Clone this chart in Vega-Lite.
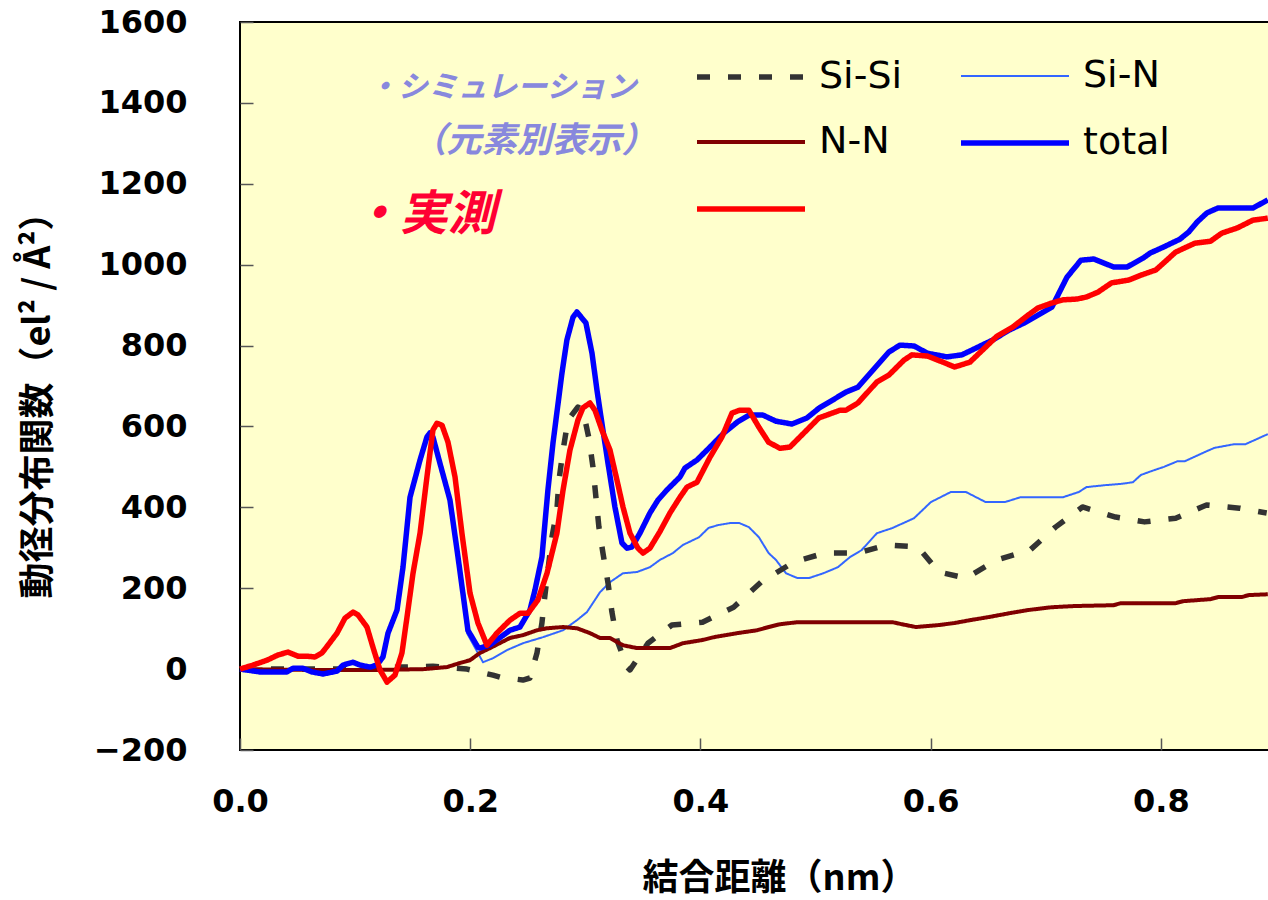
{
  "$schema": "https://vega.github.io/schema/vega-lite/v6.json",
  "autosize": "none",
  "width": 1036,
  "height": 728,
  "padding": {"left": 240, "top": 22, "right": 0, "bottom": 150},
  "background": "white",
  "config": {
    "view": {"fill": "#FFFFCC", "stroke": "#000000", "strokeWidth": 2},
    "axis": {"grid": false, "domain": false, "tickColor": "#555555", "tickWidth": 1.5, "labelColor": "#000000", "titleColor": "#000000", "labelFlush": false}
  },
  "datasets": {
    "curves": [
      {"s":"Si-N","x":0,"y":0},{"s":"Si-N","x":0.0174,"y":-7},{"s":"Si-N","x":0.0408,"y":-7},{"s":"Si-N","x":0.046,"y":2},{"s":"Si-N","x":0.0547,"y":2},{"s":"Si-N","x":0.0625,"y":-7},{"s":"Si-N","x":0.0721,"y":-12},{"s":"Si-N","x":0.0843,"y":-5},{"s":"Si-N","x":0.0895,"y":10},{"s":"Si-N","x":0.0982,"y":17},{"s":"Si-N","x":0.1042,"y":10},{"s":"Si-N","x":0.1129,"y":5},{"s":"Si-N","x":0.119,"y":10},{"s":"Si-N","x":0.1242,"y":30},{"s":"Si-N","x":0.1286,"y":89},{"s":"Si-N","x":0.1364,"y":146},{"s":"Si-N","x":0.1416,"y":252},{"s":"Si-N","x":0.1477,"y":425},{"s":"Si-N","x":0.1564,"y":517},{"s":"Si-N","x":0.1624,"y":574},{"s":"Si-N","x":0.165,"y":584},{"s":"Si-N","x":0.1676,"y":574},{"s":"Si-N","x":0.1737,"y":509},{"s":"Si-N","x":0.1824,"y":418},{"s":"Si-N","x":0.1894,"y":277},{"s":"Si-N","x":0.1972,"y":89},{"s":"Si-N","x":0.2111,"y":17},{"s":"Si-N","x":0.2198,"y":27},{"s":"Si-N","x":0.2319,"y":47},{"s":"Si-N","x":0.2458,"y":64},{"s":"Si-N","x":0.2632,"y":79},{"s":"Si-N","x":0.2806,"y":96},{"s":"Si-N","x":0.2927,"y":121},{"s":"Si-N","x":0.3014,"y":141},{"s":"Si-N","x":0.3127,"y":190},{"s":"Si-N","x":0.3214,"y":215},{"s":"Si-N","x":0.3327,"y":237},{"s":"Si-N","x":0.3448,"y":240},{"s":"Si-N","x":0.3561,"y":252},{"s":"Si-N","x":0.3648,"y":270},{"s":"Si-N","x":0.3761,"y":287},{"s":"Si-N","x":0.3848,"y":307},{"s":"Si-N","x":0.3987,"y":326},{"s":"Si-N","x":0.407,"y":349},{"s":"Si-N","x":0.4152,"y":356},{"s":"Si-N","x":0.4256,"y":361},{"s":"Si-N","x":0.4339,"y":361},{"s":"Si-N","x":0.4421,"y":351},{"s":"Si-N","x":0.4508,"y":326},{"s":"Si-N","x":0.4592,"y":287},{"s":"Si-N","x":0.4656,"y":270},{"s":"Si-N","x":0.4743,"y":237},{"s":"Si-N","x":0.4843,"y":225},{"s":"Si-N","x":0.4942,"y":225},{"s":"Si-N","x":0.5068,"y":237},{"s":"Si-N","x":0.5194,"y":252},{"s":"Si-N","x":0.5299,"y":277},{"s":"Si-N","x":0.5399,"y":294},{"s":"Si-N","x":0.5533,"y":336},{"s":"Si-N","x":0.5669,"y":349},{"s":"Si-N","x":0.5855,"y":373},{"s":"Si-N","x":0.6002,"y":413},{"s":"Si-N","x":0.6176,"y":438},{"s":"Si-N","x":0.6306,"y":438},{"s":"Si-N","x":0.6477,"y":413},{"s":"Si-N","x":0.6645,"y":413},{"s":"Si-N","x":0.678,"y":425},{"s":"Si-N","x":0.7149,"y":425},{"s":"Si-N","x":0.7288,"y":438},{"s":"Si-N","x":0.7353,"y":450},{"s":"Si-N","x":0.7522,"y":455},{"s":"Si-N","x":0.7653,"y":458},{"s":"Si-N","x":0.7757,"y":462},{"s":"Si-N","x":0.7826,"y":480},{"s":"Si-N","x":0.7922,"y":490},{"s":"Si-N","x":0.8026,"y":500},{"s":"Si-N","x":0.8144,"y":514},{"s":"Si-N","x":0.8208,"y":514},{"s":"Si-N","x":0.84,"y":539},{"s":"Si-N","x":0.8465,"y":547},{"s":"Si-N","x":0.8634,"y":556},{"s":"Si-N","x":0.8734,"y":556},{"s":"Si-N","x":0.8929,"y":581},
      {"s":"Si-Si","x":0,"y":0},{"s":"Si-Si","x":0.1,"y":0},{"s":"Si-Si","x":0.14,"y":5},{"s":"Si-Si","x":0.1676,"y":7},{"s":"Si-Si","x":0.1972,"y":0},{"s":"Si-Si","x":0.2198,"y":-15},{"s":"Si-Si","x":0.2258,"y":-20},{"s":"Si-Si","x":0.2458,"y":-27},{"s":"Si-Si","x":0.2519,"y":-22},{"s":"Si-Si","x":0.258,"y":40},{"s":"Si-Si","x":0.2623,"y":114},{"s":"Si-Si","x":0.2649,"y":183},{"s":"Si-Si","x":0.271,"y":326},{"s":"Si-Si","x":0.2753,"y":393},{"s":"Si-Si","x":0.2771,"y":467},{"s":"Si-Si","x":0.2806,"y":540},{"s":"Si-Si","x":0.2849,"y":616},{"s":"Si-Si","x":0.2936,"y":648},{"s":"Si-Si","x":0.2979,"y":640},{"s":"Si-Si","x":0.3031,"y":571},{"s":"Si-Si","x":0.3066,"y":500},{"s":"Si-Si","x":0.3092,"y":425},{"s":"Si-Si","x":0.3118,"y":351},{"s":"Si-Si","x":0.3153,"y":287},{"s":"Si-Si","x":0.3197,"y":213},{"s":"Si-Si","x":0.3231,"y":141},{"s":"Si-Si","x":0.3275,"y":72},{"s":"Si-Si","x":0.3362,"y":5},{"s":"Si-Si","x":0.3388,"y":-2},{"s":"Si-Si","x":0.3544,"y":64},{"s":"Si-Si","x":0.3752,"y":109},{"s":"Si-Si","x":0.4018,"y":116},{"s":"Si-Si","x":0.4288,"y":153},{"s":"Si-Si","x":0.4526,"y":215},{"s":"Si-Si","x":0.4812,"y":265},{"s":"Si-Si","x":0.5081,"y":287},{"s":"Si-Si","x":0.5368,"y":287},{"s":"Si-Si","x":0.562,"y":307},{"s":"Si-Si","x":0.5889,"y":302},{"s":"Si-Si","x":0.6072,"y":240},{"s":"Si-Si","x":0.6306,"y":225},{"s":"Si-Si","x":0.6575,"y":270},{"s":"Si-Si","x":0.6862,"y":294},{"s":"Si-Si","x":0.7084,"y":351},{"s":"Si-Si","x":0.7319,"y":401},{"s":"Si-Si","x":0.7606,"y":376},{"s":"Si-Si","x":0.7858,"y":364},{"s":"Si-Si","x":0.8128,"y":373},{"s":"Si-Si","x":0.8397,"y":406},{"s":"Si-Si","x":0.8683,"y":398},{"s":"Si-Si","x":0.8919,"y":386},
      {"s":"N-N","x":0,"y":0},{"s":"N-N","x":0.06,"y":-2},{"s":"N-N","x":0.12,"y":-2},{"s":"N-N","x":0.16,"y":0},{"s":"N-N","x":0.1676,"y":2},{"s":"N-N","x":0.1798,"y":5},{"s":"N-N","x":0.191,"y":15},{"s":"N-N","x":0.1998,"y":22},{"s":"N-N","x":0.2085,"y":40},{"s":"N-N","x":0.2172,"y":52},{"s":"N-N","x":0.2345,"y":77},{"s":"N-N","x":0.2458,"y":84},{"s":"N-N","x":0.258,"y":96},{"s":"N-N","x":0.2667,"y":101},{"s":"N-N","x":0.2806,"y":104},{"s":"N-N","x":0.2927,"y":101},{"s":"N-N","x":0.304,"y":89},{"s":"N-N","x":0.3127,"y":77},{"s":"N-N","x":0.3214,"y":77},{"s":"N-N","x":0.3327,"y":59},{"s":"N-N","x":0.3448,"y":52},{"s":"N-N","x":0.3735,"y":52},{"s":"N-N","x":0.3848,"y":64},{"s":"N-N","x":0.4018,"y":72},{"s":"N-N","x":0.4117,"y":79},{"s":"N-N","x":0.4321,"y":89},{"s":"N-N","x":0.4491,"y":96},{"s":"N-N","x":0.4592,"y":104},{"s":"N-N","x":0.4691,"y":111},{"s":"N-N","x":0.4843,"y":116},{"s":"N-N","x":0.5669,"y":116},{"s":"N-N","x":0.575,"y":111},{"s":"N-N","x":0.5872,"y":104},{"s":"N-N","x":0.6072,"y":109},{"s":"N-N","x":0.6208,"y":114},{"s":"N-N","x":0.6341,"y":121},{"s":"N-N","x":0.6511,"y":129},{"s":"N-N","x":0.668,"y":138},{"s":"N-N","x":0.6845,"y":146},{"s":"N-N","x":0.705,"y":153},{"s":"N-N","x":0.7253,"y":156},{"s":"N-N","x":0.7588,"y":158},{"s":"N-N","x":0.7653,"y":163},{"s":"N-N","x":0.8128,"y":163},{"s":"N-N","x":0.8195,"y":168},{"s":"N-N","x":0.8431,"y":173},{"s":"N-N","x":0.8495,"y":178},{"s":"N-N","x":0.87,"y":178},{"s":"N-N","x":0.8764,"y":183},{"s":"N-N","x":0.8929,"y":185},
      {"s":"total","x":0,"y":0},{"s":"total","x":0.0174,"y":-7},{"s":"total","x":0.0408,"y":-7},{"s":"total","x":0.046,"y":2},{"s":"total","x":0.0547,"y":2},{"s":"total","x":0.0625,"y":-7},{"s":"total","x":0.0721,"y":-12},{"s":"total","x":0.0843,"y":-5},{"s":"total","x":0.0895,"y":10},{"s":"total","x":0.0982,"y":17},{"s":"total","x":0.1042,"y":10},{"s":"total","x":0.1129,"y":5},{"s":"total","x":0.119,"y":10},{"s":"total","x":0.1242,"y":30},{"s":"total","x":0.1286,"y":89},{"s":"total","x":0.1364,"y":146},{"s":"total","x":0.1416,"y":252},{"s":"total","x":0.1477,"y":425},{"s":"total","x":0.1564,"y":517},{"s":"total","x":0.1624,"y":574},{"s":"total","x":0.165,"y":584},{"s":"total","x":0.1676,"y":574},{"s":"total","x":0.1737,"y":509},{"s":"total","x":0.1824,"y":418},{"s":"total","x":0.1894,"y":277},{"s":"total","x":0.198,"y":96},{"s":"total","x":0.2067,"y":54},{"s":"total","x":0.2085,"y":52},{"s":"total","x":0.2172,"y":60},{"s":"total","x":0.2345,"y":96},{"s":"total","x":0.2432,"y":104},{"s":"total","x":0.2519,"y":146},{"s":"total","x":0.2562,"y":195},{"s":"total","x":0.2623,"y":277},{"s":"total","x":0.2675,"y":443},{"s":"total","x":0.2719,"y":559},{"s":"total","x":0.2797,"y":732},{"s":"total","x":0.284,"y":814},{"s":"total","x":0.2893,"y":870},{"s":"total","x":0.2927,"y":883},{"s":"total","x":0.3005,"y":856},{"s":"total","x":0.3058,"y":781},{"s":"total","x":0.3101,"y":690},{"s":"total","x":0.3144,"y":608},{"s":"total","x":0.3197,"y":509},{"s":"total","x":0.3257,"y":401},{"s":"total","x":0.3318,"y":312},{"s":"total","x":0.3362,"y":299},{"s":"total","x":0.3405,"y":302},{"s":"total","x":0.3474,"y":336},{"s":"total","x":0.3561,"y":386},{"s":"total","x":0.3631,"y":418},{"s":"total","x":0.3709,"y":443},{"s":"total","x":0.3822,"y":475},{"s":"total","x":0.3865,"y":497},{"s":"total","x":0.397,"y":517},{"s":"total","x":0.4083,"y":549},{"s":"total","x":0.4204,"y":584},{"s":"total","x":0.4321,"y":611},{"s":"total","x":0.4421,"y":628},{"s":"total","x":0.4543,"y":628},{"s":"total","x":0.4656,"y":613},{"s":"total","x":0.4795,"y":606},{"s":"total","x":0.4925,"y":621},{"s":"total","x":0.5029,"y":645},{"s":"total","x":0.5147,"y":665},{"s":"total","x":0.5264,"y":685},{"s":"total","x":0.5368,"y":697},{"s":"total","x":0.5498,"y":739},{"s":"total","x":0.5637,"y":784},{"s":"total","x":0.5733,"y":801},{"s":"total","x":0.5855,"y":799},{"s":"total","x":0.5972,"y":781},{"s":"total","x":0.6141,"y":772},{"s":"total","x":0.6271,"y":777},{"s":"total","x":0.641,"y":796},{"s":"total","x":0.6541,"y":814},{"s":"total","x":0.668,"y":838},{"s":"total","x":0.6814,"y":856},{"s":"total","x":0.6932,"y":875},{"s":"total","x":0.7053,"y":895},{"s":"total","x":0.7184,"y":969},{"s":"total","x":0.7305,"y":1011},{"s":"total","x":0.7418,"y":1014},{"s":"total","x":0.7592,"y":994},{"s":"total","x":0.7705,"y":994},{"s":"total","x":0.7844,"y":1016},{"s":"total","x":0.7909,"y":1029},{"s":"total","x":0.8026,"y":1044},{"s":"total","x":0.8165,"y":1063},{"s":"total","x":0.8243,"y":1081},{"s":"total","x":0.8313,"y":1105},{"s":"total","x":0.84,"y":1128},{"s":"total","x":0.8495,"y":1140},{"s":"total","x":0.8799,"y":1140},{"s":"total","x":0.8929,"y":1160},
      {"s":"実測","x":0,"y":0},{"s":"実測","x":0.0113,"y":10},{"s":"実測","x":0.0235,"y":22},{"s":"実測","x":0.033,"y":35},{"s":"実測","x":0.0417,"y":42},{"s":"実測","x":0.0504,"y":32},{"s":"実測","x":0.0582,"y":32},{"s":"実測","x":0.0651,"y":30},{"s":"実測","x":0.0712,"y":40},{"s":"実測","x":0.0764,"y":59},{"s":"実測","x":0.0843,"y":89},{"s":"実測","x":0.0912,"y":126},{"s":"実測","x":0.0982,"y":141},{"s":"実測","x":0.1025,"y":134},{"s":"実測","x":0.1103,"y":104},{"s":"実測","x":0.1155,"y":54},{"s":"実測","x":0.1216,"y":-2},{"s":"実測","x":0.1277,"y":-32},{"s":"実測","x":0.1346,"y":-15},{"s":"実測","x":0.1407,"y":40},{"s":"実測","x":0.1451,"y":129},{"s":"実測","x":0.1503,"y":237},{"s":"実測","x":0.1564,"y":336},{"s":"実測","x":0.1624,"y":475},{"s":"実測","x":0.1676,"y":591},{"s":"実測","x":0.1711,"y":608},{"s":"実測","x":0.1755,"y":603},{"s":"実測","x":0.1807,"y":561},{"s":"実測","x":0.1868,"y":475},{"s":"実測","x":0.1928,"y":336},{"s":"実測","x":0.1998,"y":188},{"s":"実測","x":0.2067,"y":114},{"s":"実測","x":0.2145,"y":59},{"s":"実測","x":0.2232,"y":89},{"s":"実測","x":0.2345,"y":121},{"s":"実測","x":0.2432,"y":138},{"s":"実測","x":0.2502,"y":138},{"s":"実測","x":0.2588,"y":171},{"s":"実測","x":0.2667,"y":237},{"s":"実測","x":0.2753,"y":336},{"s":"実測","x":0.2806,"y":442},{"s":"実測","x":0.2866,"y":541},{"s":"実測","x":0.2936,"y":616},{"s":"実測","x":0.2979,"y":646},{"s":"実測","x":0.304,"y":658},{"s":"実測","x":0.3084,"y":640},{"s":"実測","x":0.3144,"y":591},{"s":"実測","x":0.3214,"y":542},{"s":"実測","x":0.3275,"y":467},{"s":"実測","x":0.3327,"y":401},{"s":"実測","x":0.3388,"y":336},{"s":"実測","x":0.3457,"y":299},{"s":"実測","x":0.3501,"y":287},{"s":"実測","x":0.3561,"y":299},{"s":"実測","x":0.3648,"y":340},{"s":"実測","x":0.3735,"y":386},{"s":"実測","x":0.3822,"y":425},{"s":"実測","x":0.3883,"y":450},{"s":"実測","x":0.397,"y":462},{"s":"実測","x":0.4083,"y":524},{"s":"実測","x":0.4187,"y":574},{"s":"実測","x":0.4274,"y":633},{"s":"実測","x":0.4339,"y":640},{"s":"実測","x":0.4421,"y":640},{"s":"実測","x":0.4508,"y":598},{"s":"実測","x":0.4592,"y":561},{"s":"実測","x":0.4691,"y":546},{"s":"実測","x":0.4777,"y":549},{"s":"実測","x":0.4861,"y":573},{"s":"実測","x":0.5029,"y":621},{"s":"実測","x":0.5212,"y":640},{"s":"実測","x":0.5264,"y":640},{"s":"実測","x":0.5368,"y":658},{"s":"実測","x":0.5533,"y":710},{"s":"実測","x":0.5637,"y":727},{"s":"実測","x":0.5768,"y":764},{"s":"実測","x":0.5837,"y":777},{"s":"実測","x":0.5972,"y":774},{"s":"実測","x":0.6106,"y":759},{"s":"実測","x":0.6208,"y":747},{"s":"実測","x":0.6341,"y":759},{"s":"実測","x":0.6477,"y":796},{"s":"実測","x":0.6575,"y":823},{"s":"実測","x":0.6714,"y":846},{"s":"実測","x":0.6845,"y":875},{"s":"実測","x":0.6932,"y":893},{"s":"実測","x":0.705,"y":905},{"s":"実測","x":0.7149,"y":913},{"s":"実測","x":0.727,"y":915},{"s":"実測","x":0.7353,"y":920},{"s":"実測","x":0.7453,"y":932},{"s":"実測","x":0.7572,"y":955},{"s":"実測","x":0.7722,"y":962},{"s":"実測","x":0.7826,"y":974},{"s":"実測","x":0.7957,"y":987},{"s":"実測","x":0.8128,"y":1031},{"s":"実測","x":0.8295,"y":1053},{"s":"実測","x":0.8431,"y":1058},{"s":"実測","x":0.853,"y":1078},{"s":"実測","x":0.8666,"y":1091},{"s":"実測","x":0.8799,"y":1110},{"s":"実測","x":0.8929,"y":1115}
    ],
    "sim": [
      {"x": 0.111, "y": 1437, "t": "・シミュレーション"}
    ],
    "sim2": [
      {"x": 0.149, "y": 1306, "t": "（元素別表示）"}
    ],
    "meas": [
      {"x": 0.097, "y": 1120, "t": "・実測"}
    ]
  },
  "layer": [
    {
      "data": {"name": "curves"},
      "mark": {"type": "line", "strokeJoin": "round", "strokeCap": "butt"},
      "encoding": {
        "x": {
          "field": "x", "type": "quantitative",
          "scale": {"domain": [0, 0.9], "nice": false, "zero": false},
          "axis": {
            "values": [0, 0.2, 0.4, 0.6, 0.8], "format": ".1f",
            "tickSize": -12, "labelPadding": 48,
            "labelFont": "DejaVu Sans", "labelFontWeight": "bold", "labelFontSize": 32,
            "title": "結合距離（nm）", "titleFont": "Noto Sans CJK JP", "titleFontWeight": "bold", "titleFontSize": 36,
            "titleX": 539, "titleY": 128, "titleBaseline": "middle", "titleAlign": "center"
          }
        },
        "y": {
          "field": "y", "type": "quantitative",
          "scale": {"domain": [-200, 1600], "nice": false, "zero": false},
          "axis": {
            "values": [-200, 0, 200, 400, 600, 800, 1000, 1200, 1400, 1600], "format": "d",
            "tickSize": -13, "labelPadding": 66,
            "labelFont": "DejaVu Sans", "labelFontWeight": "bold", "labelFontSize": 32,
            "title": "動径分布関数（el² / Å²）", "titleFont": "Noto Sans CJK JP", "titleFontWeight": "bold", "titleFontSize": 36,
            "titleX": -202, "titleY": 374, "titleBaseline": "middle", "titleAlign": "center", "titleAngle": -90
          }
        },
        "color": {
          "field": "s", "type": "nominal",
          "scale": {"type": "ordinal", "domain": ["Si-Si", "N-N", "実測", "Si-N", "total"], "range": ["#333333", "#800000", "#FF0000", "#3366FF", "#0000FF"]},
          "legend": {
            "orient": "none", "legendX": 481, "legendY": 25, "columns": 2, "title": null, "padding": 0,
            "symbolType": "M-2,0H2", "symbolSize": 2916, "labelFont": "DejaVu Sans", "labelFontSize": 38, "labelColor": "#000000",
            "labelOffset": 38, "columnPadding": 47, "rowPadding": 17,
            "labelExpr": "datum.label == '実測' ? ' ' : datum.label"
          }
        },
        "strokeDash": {
          "field": "s", "type": "nominal",
          "scale": {"type": "ordinal", "domain": ["Si-Si", "N-N", "実測", "Si-N", "total"], "range": [[13, 18], [1, 0], [1, 0], [1, 0], [1, 0]]}
        },
        "strokeWidth": {
          "field": "s", "type": "nominal",
          "scale": {"type": "ordinal", "domain": ["Si-Si", "N-N", "実測", "Si-N", "total"], "range": [5.5, 4, 5.5, 2, 5.5]}
        }
      }
    },
    {
      "data": {"name": "sim"},
      "mark": {"type": "text", "align": "left", "baseline": "middle", "font": "Noto Sans CJK JP", "fontSize": 30, "fontStyle": "italic", "fontWeight": "bold", "color": "#8888DD"},
      "encoding": {
        "x": {"field": "x", "type": "quantitative"},
        "y": {"field": "y", "type": "quantitative"},
        "text": {"field": "t"}
      }
    },
    {
      "data": {"name": "sim2"},
      "mark": {"type": "text", "align": "left", "baseline": "middle", "font": "Noto Sans CJK JP", "fontSize": 35, "fontStyle": "italic", "fontWeight": "bold", "color": "#8888DD"},
      "encoding": {
        "x": {"field": "x", "type": "quantitative"},
        "y": {"field": "y", "type": "quantitative"},
        "text": {"field": "t"}
      }
    },
    {
      "data": {"name": "meas"},
      "mark": {"type": "text", "align": "left", "baseline": "middle", "font": "Noto Sans CJK JP", "fontSize": 48, "fontStyle": "italic", "fontWeight": "bold", "color": "#FF0033"},
      "encoding": {
        "x": {"field": "x", "type": "quantitative"},
        "y": {"field": "y", "type": "quantitative"},
        "text": {"field": "t"}
      }
    }
  ]
}
